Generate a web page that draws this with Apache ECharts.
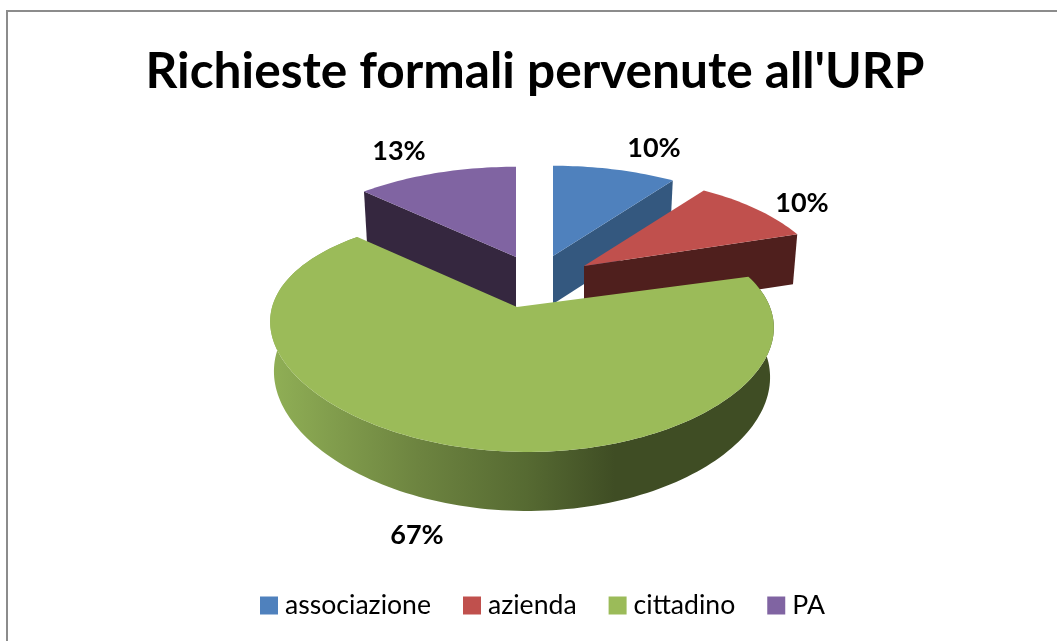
<!DOCTYPE html>
<html><head><meta charset="utf-8">
<style>html,body{margin:0;padding:0;background:#fff}#c{width:1057px;height:641px}</style>
<script src="https://cdn.jsdelivr.net/npm/echarts@6/dist/echarts.min.js"></script>
</head><body><div id="c"></div>
<script>
const categories = ['associazione', 'azienda', 'cittadino', 'PA'];
const values = [10, 10, 67, 13];
const topColors = ['#4F81BD', '#C0504D', '#9BBB59', '#8064A2'];
const sideColors = ['#34587F', '#4F1F1D', '#6D8440', '#35273F'];
const titleText = "Richieste formali pervenute all'URP";

// projection and layout, kept apart from the data
const PERSP_Y = 0.2135;
const apexes = [[553, 256], [584, 266], [517, 307], [516, 257]];
const arcCentres = [[553, 256], [584, 266], [522, 307], [516, 257]];
const radiiX = [239, 239, 249, 239];
const radiiY = [109.5, 109.5, 114, 109.5];
const perspX = [0.2135, 0.2135, 0.15, 0.2135];
const tilt = [0, 0, 0.012, 0];
const faceDepth = [48, 50, 48, 52];
const labelPos = [[654, 148], [802, 203], [417, 535], [399, 151]];
const layers = [3, 4, 5, 2];

const total = values.reduce((a, b) => a + b, 0);
const starts = [];
values.reduce((acc, v, i) => { starts[i] = acc; return acc + v; }, 0);
const toAngle = v => v / total * 2 * Math.PI;

function rim(i, theta, depth) {
  const u = Math.sin(theta), v = Math.cos(theta);
  const dx = radiiX[i] * u / (1 + perspX[i] * v) * (depth ? 0.985 : 1);
  const drop = depth ? (v >= 0 ? 48 : 48 + 11 * (-v)) : 0;
  return [
    arcCentres[i][0] + dx,
    arcCentres[i][1] + radiiY[i] * (-v) / (1 + PERSP_Y * v) + tilt[i] * dx + drop
  ];
}
function arcPts(i, a0, a1, depth) {
  const n = Math.max(8, Math.round((a1 - a0) * 40));
  const out = [];
  for (let s = 0; s <= n; s++) out.push(rim(i, a0 + (a1 - a0) * s / n, depth));
  return out;
}
const greenSide = new echarts.graphic.LinearGradient(275, 0, 615, 0, [
  {offset: 0, color: '#8FAE55'},
  {offset: 0.42, color: '#6D8440'},
  {offset: 0.74, color: '#566A32'},
  {offset: 1, color: '#3F4D24'}
], true);

function renderSlice(i) {
  return function () {
    const a0 = toAngle(starts[i]), a1 = toAngle(starts[i] + values[i]);
    const apex = apexes[i];
    const children = [];
    const top = [apex].concat(arcPts(i, a0, a1, false));
    if (i === 2) {
      const side = arcPts(i, a0, a1, false).concat(arcPts(i, a0, a1, true).reverse());
      children.push({type: 'polygon', shape: {points: side}, style: {fill: greenSide}});
    } else {
      // visible cut face: the right edge for the slices on the right, the left edge for PA
      const edge = i === 3 ? a0 : a1;
      const p = rim(i, edge, false), d = faceDepth[i];
      const q = [p[0] - (p[0] - apex[0]) * 0.02, p[1] + d];
      const face = [apex, p, q, [apex[0], apex[1] + d]];
      children.push({type: 'polygon', shape: {points: face}, style: {fill: sideColors[i]}});
    }
    children.push({type: 'polygon', shape: {points: top}, style: {fill: topColors[i]}});
    children.push({
      type: 'text', z2: 50,
      style: {
        text: Math.round(values[i] / total * 100) + '%',
        x: labelPos[i][0], y: labelPos[i][1], align: 'center', verticalAlign: 'middle',
        font: 'bold 27px Lato', fill: '#000'
      }
    });
    return {type: 'group', children};
  };
}

const chart = echarts.init(document.getElementById('c'), null, {renderer: 'canvas'});
chart.setOption({
  animation: false,
  backgroundColor: '#fff',
  title: {
    text: titleText, left: 530, top: 42, textAlign: 'center',
    textStyle: {fontFamily: 'Lato', fontWeight: 'bold', fontSize: 49.6, color: '#000'}
  },
  legend: {
    data: categories, left: 255, top: 587, icon: 'rect', itemWidth: 18, itemHeight: 18, itemGap: 32,
    textStyle: {fontFamily: 'Lato', fontSize: 26.6, color: '#000', padding: [0, 0, 0, 2]}
  },
  graphic: [{type: 'rect', shape: {x: 7, y: 11, width: 1200, height: 800}, style: {fill: 'none', stroke: '#8C8C8C', lineWidth: 2}, silent: true}],
  series: categories.map((name, i) => ({
    type: 'custom', name, coordinateSystem: 'none', silent: true, z: layers[i],
    itemStyle: {color: topColors[i]},
    data: [[values[i]]],
    renderItem: renderSlice(i)
  }))
});
</script></body></html>
